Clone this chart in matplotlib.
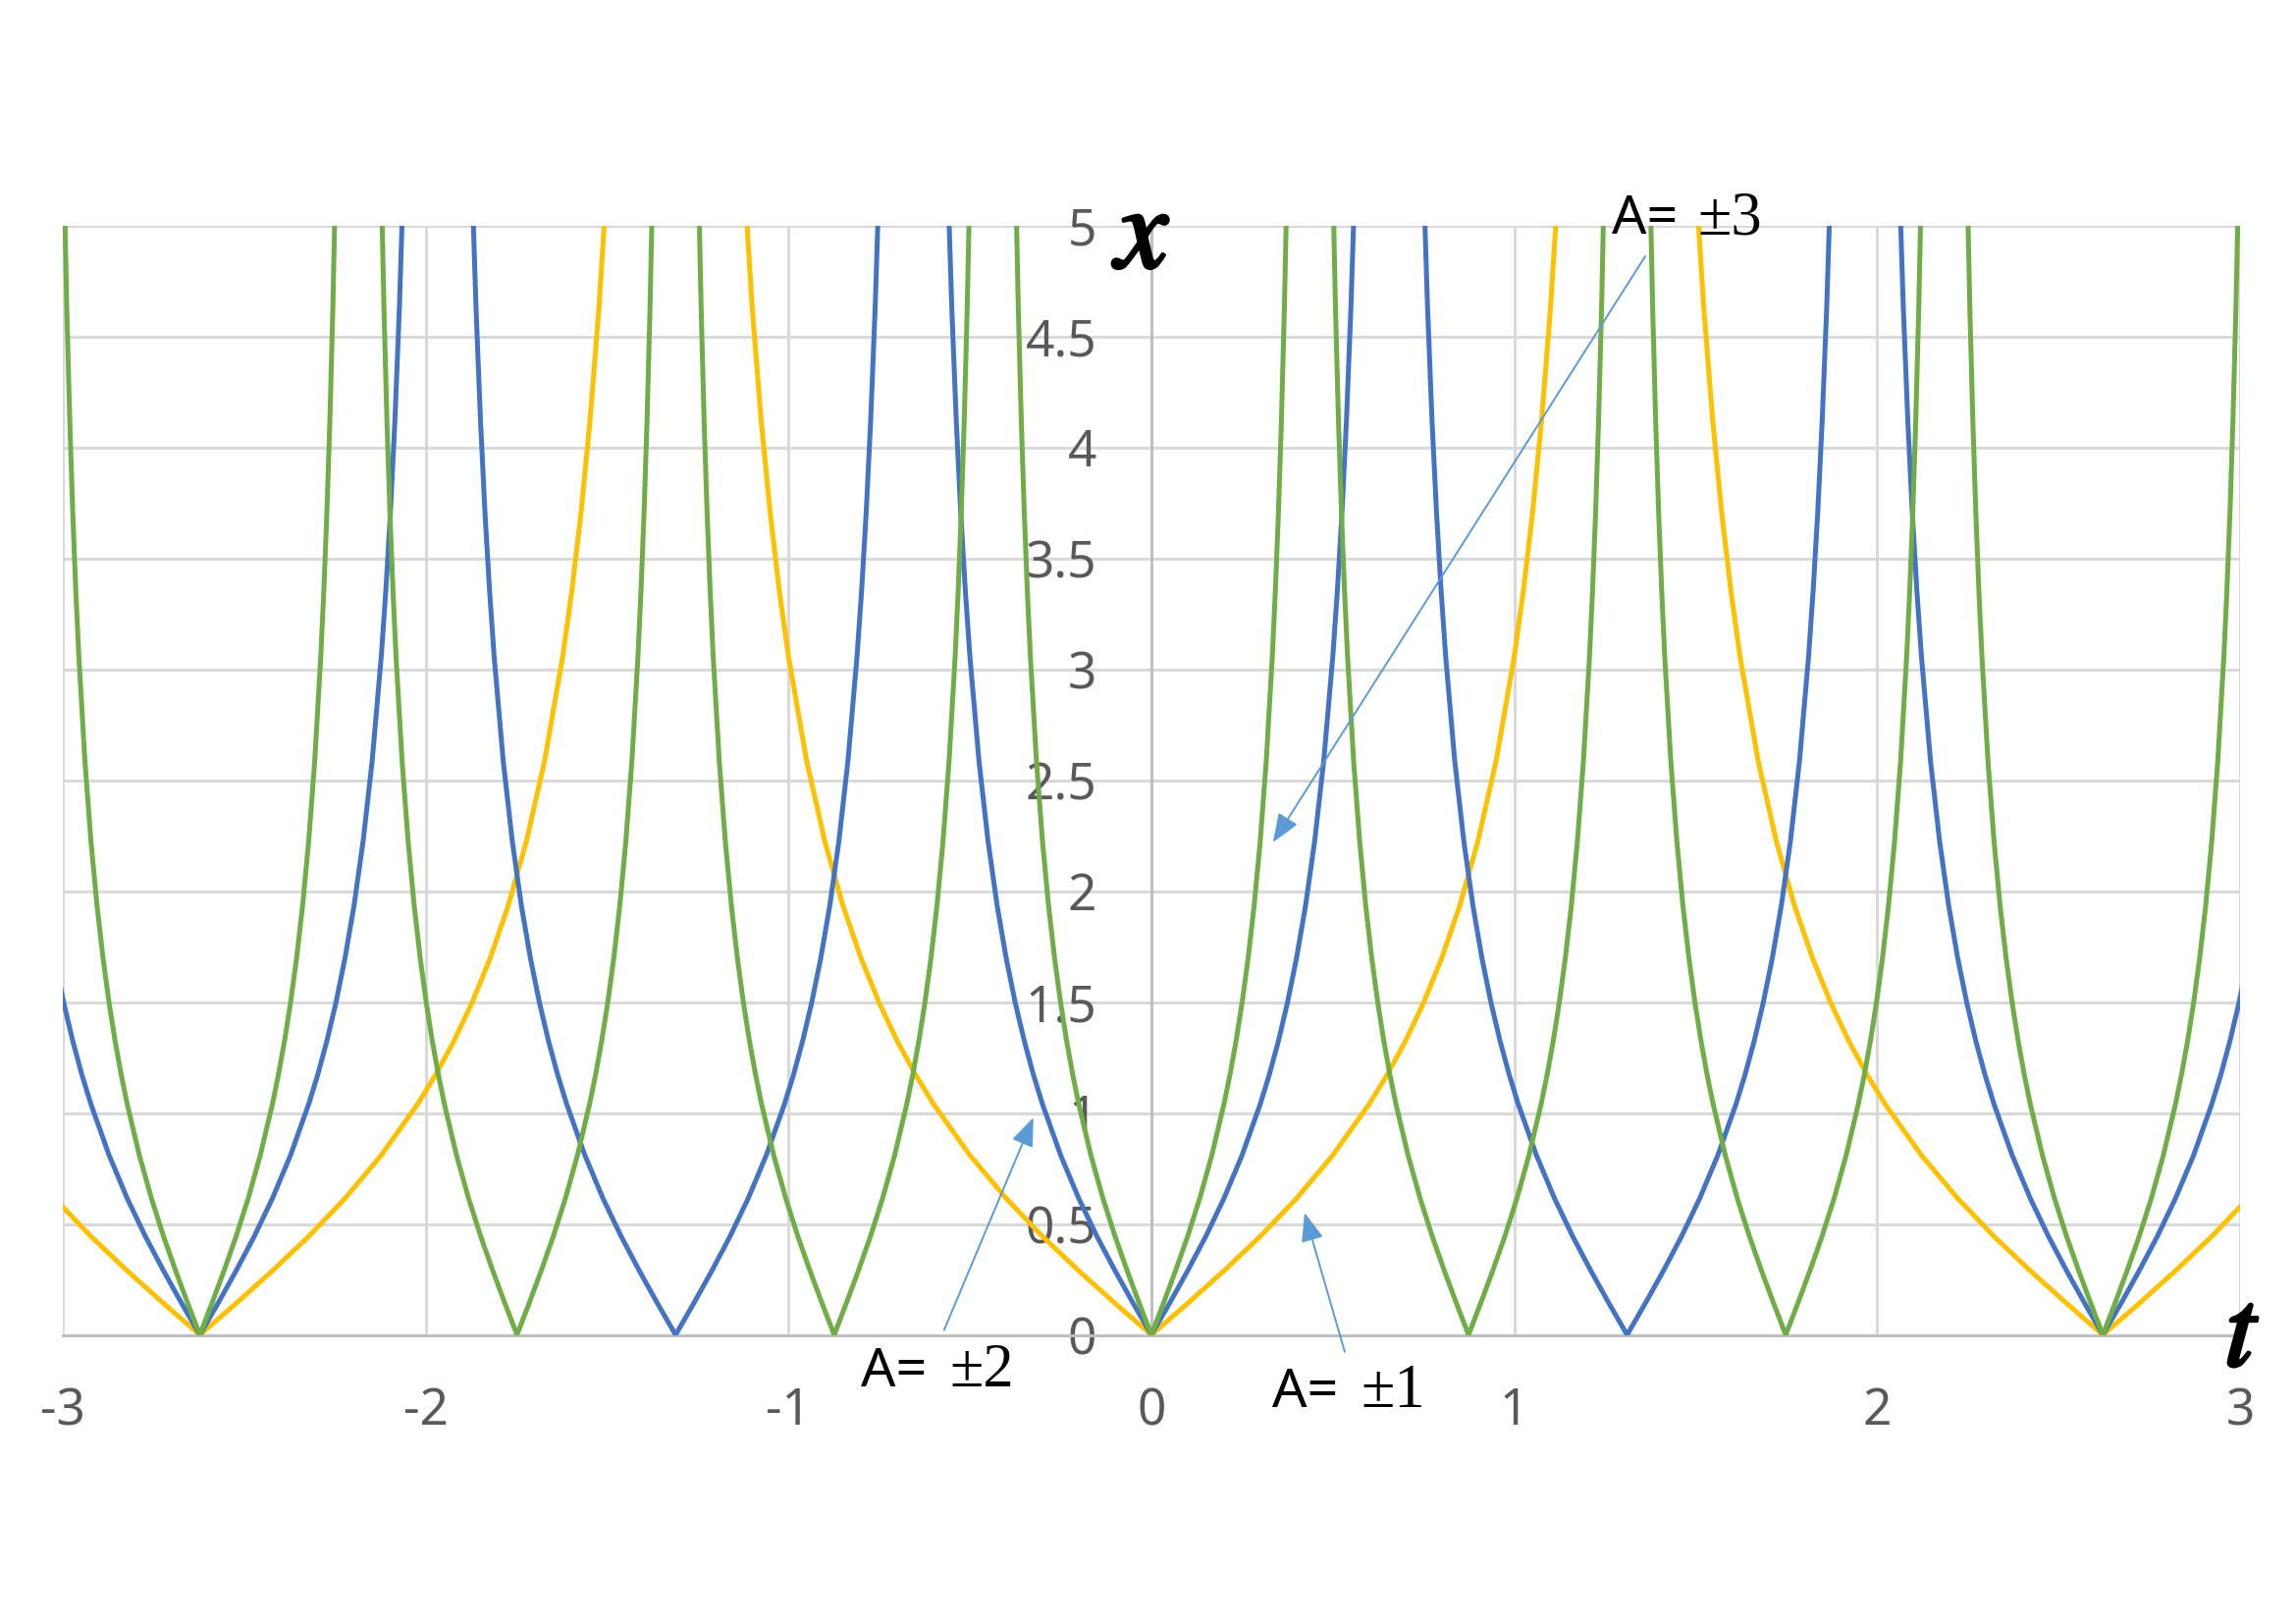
import numpy as np
import matplotlib
matplotlib.use("Agg")
import matplotlib.pyplot as plt
import matplotlib.patheffects as pe
from matplotlib.ticker import FuncFormatter

plt.rcParams["axes.unicode_minus"] = False
plt.rcParams["mathtext.fontset"] = "stix"

# A=±1 branch: distance from a zero (t) -> height x.
# The other branches are the same shape squeezed by |A| along t.
DIST = [0.0, 0.1, 0.2, 0.3, 0.4, 0.5, 0.6, 0.65, 0.7, 0.75, 0.8, 0.85,
        0.9, 0.95, 1.0, 1.025, 1.05, 1.075, 1.1, 1.125, 1.15, 1.175, 1.2]
HEIGHT = [0.0, 0.142, 0.289, 0.444, 0.615, 0.810, 1.040, 1.173, 1.324,
          1.497, 1.698, 1.936, 2.226, 2.588, 3.059, 3.353, 3.700, 4.119,
          4.634, 5.283, 6.131, 7.285, 8.954]

# zeros of each series (where the curves touch x=0)
ZEROS_A1 = [-2.622, 0.0, 2.622]
ZEROS_A2 = [-2.622, -1.311, 0.0, 1.311, 2.622]
ZEROS_A3 = [-2.622, -1.748, -0.874, 0.0, 0.874, 1.748, 2.622]

SERIES = [  # (|A|, zeros, colour) in Excel draw order
    (1, ZEROS_A1, "#FFC000"),
    (2, ZEROS_A2, "#4472C4"),
    (3, ZEROS_A3, "#70AD47"),
]

X_TICKS = [-3, -2, -1, 0, 1, 2, 3]
Y_TICKS = [0, 0.5, 1, 1.5, 2, 2.5, 3, 3.5, 4, 4.5, 5]

GRID = "#D9D9D9"
AXIS = "#BFBFBF"
LABEL = "#595959"
ARROW = "#5B9BD5"


def branch_lines(a, zeros):
    d = np.asarray(DIST) / a
    h = np.asarray(HEIGHT)
    ts, xs = [], []
    for z in zeros:
        ts += list(z - d[::-1]) + list(z + d[1:]) + [np.nan]
        xs += list(h[::-1]) + list(h[1:]) + [np.nan]
    return ts, xs


fig = plt.figure(figsize=(23.39, 16.54), dpi=100)
ax = fig.add_axes([0.02728, 0.17805, 0.94836, 0.68289])

for a, zeros, col in SERIES:
    ts, xs = branch_lines(a, zeros)
    ax.plot(ts, xs, color=col, lw=3.6, zorder=3, solid_joinstyle="round")

ax.set_xlim(-3, 3)
ax.set_ylim(0, 5)
ax.set_xticks(X_TICKS)
ax.set_yticks(Y_TICKS)
ax.xaxis.set_major_formatter(FuncFormatter(lambda v, p: f"{v:g}"))
ax.yaxis.set_major_formatter(FuncFormatter(lambda v, p: f"{v:g}"))
ax.grid(True, color=GRID, lw=2.2)
ax.set_axisbelow(True)

for s in ["top", "right"]:
    ax.spines[s].set_visible(False)
ax.spines["left"].set_position(("data", 0))
for s in ["left", "bottom"]:
    ax.spines[s].set_color(AXIS)
    ax.spines[s].set_linewidth(2.2)
    ax.spines[s].set_zorder(2.5)

ax.tick_params(axis="both", length=0, labelcolor=LABEL, labelsize=37)
ax.tick_params(axis="y", pad=40)
ax.tick_params(axis="x", pad=38)
for lab in ax.get_xticklabels() + ax.get_yticklabels():
    lab.set_family("Noto Sans")

# axis titles
stroke = [pe.withStroke(linewidth=2.5, foreground="black")]
ax.text(-0.019, 4.955, r"$x$", fontsize=86, ha="center", va="center",
        path_effects=stroke)
ax.text(3.005, 0.0, r"$t$", fontsize=82, ha="center", va="center",
        path_effects=stroke)

# series labels with arrows
labels = [
    # (A= left, ± left, baseline, sign text, arrow start, arrow tip)
    (1.269, 1.505, 4.963, "±3", (1.361, 4.863), (0.335, 2.22)),
    (-0.801, -0.555, -0.231, "±2", (-0.571, 0.022), (-0.325, 0.98)),
    (0.332, 0.578, -0.324, "±1", (0.533, -0.077), (0.422, 0.551)),
]
for xa, xs_, yb, sign, start, tip in labels:
    ax.text(xa, yb, "A=", fontsize=40, family="Noto Sans", color="black",
            ha="left", va="baseline")
    ax.text(xs_, yb, sign, fontsize=45, family="Liberation Serif",
            color="black", ha="left", va="baseline")
    ax.annotate("", xy=tip, xytext=start, annotation_clip=False,
                arrowprops=dict(arrowstyle="-|>,head_length=0.9,head_width=0.35",
                                mutation_scale=20, lw=1.4, color=ARROW,
                                shrinkA=0, shrinkB=0))

fig.savefig("out.png", dpi=100)
